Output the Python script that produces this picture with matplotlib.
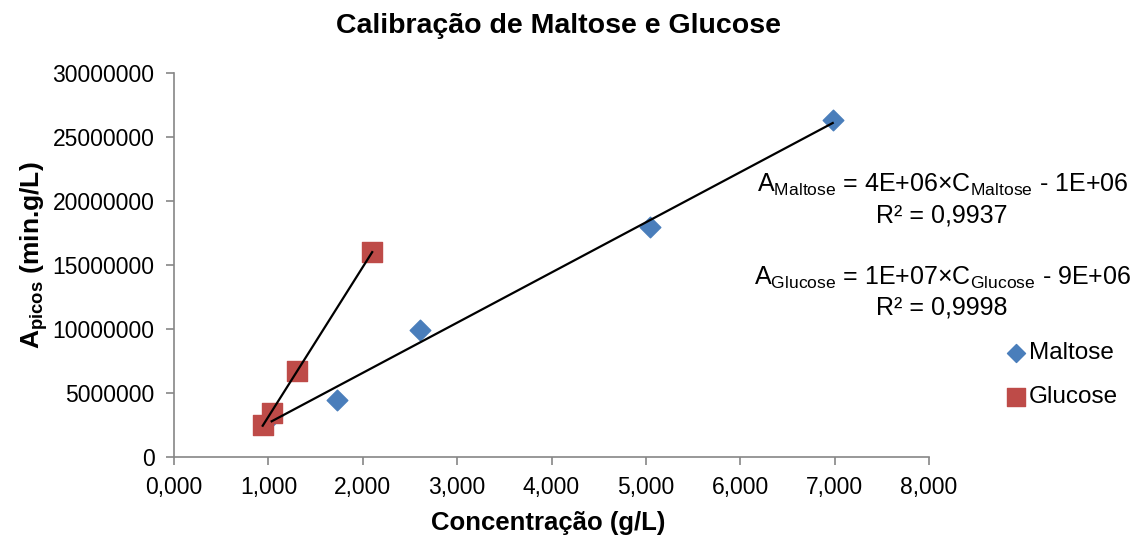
import numpy as np
import matplotlib.pyplot as plt
from matplotlib.ticker import FuncFormatter

plt.rcParams['font.family'] = ['Liberation Sans', 'DejaVu Sans']
plt.rcParams['mathtext.fontset'] = 'custom'
plt.rcParams['mathtext.rm'] = 'Liberation Sans'
plt.rcParams['mathtext.it'] = 'Liberation Sans:italic'
plt.rcParams['mathtext.bf'] = 'Liberation Sans:bold'

# concentração (g/L) e área dos picos (min.g/L)
maltose_c = [1.035, 1.73, 2.61, 5.04, 6.98]
maltose_a = [3.2e6, 4.45e6, 9.9e6, 18.0e6, 26.3e6]
glucose_c = [0.94, 1.035, 1.30, 2.10]
glucose_a = [2.5e6, 3.46e6, 6.7e6, 16.0e6]

W, H = 1148, 543
fig = plt.figure(figsize=(W / 100, H / 100), dpi=100)
ax = fig.add_axes([174/W, 1 - 457/H, (929-174)/W, (457-73)/H])

def px(x, y):
    return x / W, 1 - y / H

ax.scatter(maltose_c, maltose_a, marker='D', s=110, color='#4a7ebb',
           edgecolors='#4a7ebb', label='Maltose', zorder=3)
ax.scatter(glucose_c, glucose_a, marker='s', s=225, color='#be4b48',
           edgecolors='#be4b48', label='Glucose', zorder=3)

# linhas de tendência (regressão linear)
for c, a in ((maltose_c, maltose_a), (glucose_c, glucose_a)):
    k, b = np.polyfit(c, a, 1)
    xs = np.array([min(c), max(c)])
    ax.plot(xs, k * xs + b, color='black', lw=1.6, zorder=4)

ax.set_xlim(0, 8)
ax.set_ylim(0, 30000000)
ax.set_xticks(np.arange(0, 9, 1))
ax.set_yticks(np.arange(0, 30000001, 5000000))
ax.xaxis.set_major_formatter(FuncFormatter(lambda v, p: f'{v:.3f}'.replace('.', ',')))
ax.yaxis.set_major_formatter(FuncFormatter(lambda v, p: f'{int(v)}'))
ax.tick_params(labelsize=16.5, length=6, color='#868686', width=1.2, pad=8)

for s in ('top', 'right'):
    ax.spines[s].set_visible(False)
for s in ('left', 'bottom'):
    ax.spines[s].set_color('#868686')
    ax.spines[s].set_linewidth(1.2)

fig.text(*px(559, 33), 'Calibração de Maltose e Glucose', fontsize=20.5,
         fontweight='bold', ha='center', va='baseline')
ax.set_xlabel('Concentração (g/L)', fontsize=18.5, fontweight='bold')
ax.xaxis.set_label_coords((548 - 174) / 755, -(511 - 457) / 384)
ax.set_ylabel(r'$\mathbf{A_{picos}}$ (min.g/L)', fontsize=19, fontweight='bold')
ax.yaxis.set_label_coords((50 - 174) / 755, (457 - 255) / 384)

eq_kw = dict(fontsize=18, ha='center', va='baseline')
fig.text(*px(943, 192),
         r'A$_{\mathrm{Maltose}}$ = 4E+06×C$_{\mathrm{Maltose}}$ - 1E+06', **eq_kw)
fig.text(*px(942, 222), 'R² = 0,9937', **eq_kw)
fig.text(*px(943, 285),
         r'A$_{\mathrm{Glucose}}$ = 1E+07×C$_{\mathrm{Glucose}}$ - 9E+06', **eq_kw)
fig.text(*px(942, 315), 'R² = 0,9998', **eq_kw)

leg = ax.legend(loc='center left', bbox_to_anchor=px(994, 375),
                bbox_transform=fig.transFigure, frameon=False, fontsize=17.5,
                borderpad=0, handlelength=0.8, handletextpad=0.15,
                labelspacing=0.9)
leg.legend_handles[0].set_sizes([84])
leg.legend_handles[1].set_sizes([150])

fig.savefig('out.png', dpi=100)
